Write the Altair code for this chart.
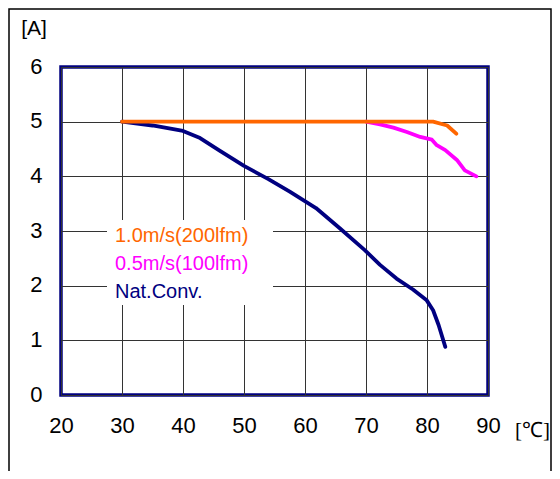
import altair as alt
import pandas as pd

# Data
orange_x = [30, 81, 83.3, 84.8]
orange_y = [5.0, 5.0, 4.93, 4.78]

magenta_x = [70, 72.3, 74.5, 76.7, 78.9, 80.8, 81.6, 83, 84.9, 86.2, 88.1]
magenta_y = [5.0, 4.95, 4.89, 4.81, 4.72, 4.67, 4.57, 4.48, 4.30, 4.11, 4.0]

navy_x = [30, 35, 40, 42.8, 46, 50, 54, 57.5, 61.8, 65.7, 69.8, 72.3, 75, 77.7, 79.9, 81, 81.9, 83]
navy_y = [5.0, 4.93, 4.83, 4.7, 4.47, 4.19, 3.95, 3.72, 3.42, 3.05, 2.65, 2.38, 2.13, 1.93, 1.74, 1.55, 1.28, 0.88]

x_ticks = [20, 30, 40, 50, 60, 70, 80, 90]
y_ticks = [0, 1, 2, 3, 4, 5, 6]

legend_labels = ["1.0m/s(200lfm)", "0.5m/s(100lfm)", "Nat.Conv."]
legend_colors = ["#FF6600", "#FF00FF", "#000080"]

W, H = 427, 328
PAD = {"left": 53, "top": 59, "right": 64, "bottom": 76}

xscale = alt.Scale(domain=[20, 90], nice=False, zero=False)
yscale = alt.Scale(domain=[0, 6], nice=False)

xaxis = alt.Axis(values=x_ticks, title=None, ticks=False, domain=False, grid=True,
                 gridColor="#333333", gridWidth=1, labelPadding=20, labelFontSize=22,
                 labelFont="Liberation Sans", labelColor="black", labelFlush=False)
yaxis = alt.Axis(values=y_ticks, title=None, ticks=False, domain=False, grid=True,
                 gridColor="#333333", gridWidth=1, labelPadding=19, labelFontSize=22,
                 labelFont="Liberation Sans", labelColor="black", labelOffset=-1)


def line_layer(xs, ys, color):
    df = pd.DataFrame({"t": xs, "a": ys, "o": list(range(len(xs)))})
    return alt.Chart(df).mark_line(color=color, strokeWidth=3.8, strokeCap="round",
                                   strokeJoin="round").encode(
        x=alt.X("t:Q", scale=xscale, axis=xaxis),
        y=alt.Y("a:Q", scale=yscale, axis=yaxis),
        order="o:Q")


navy = line_layer(navy_x, navy_y, "#000080")
magenta = line_layer(magenta_x, magenta_y, "#FF00FF")
orange = line_layer(orange_x, orange_y, "#FF6600")

one = pd.DataFrame({"k": [0]})

frame = alt.Chart(one).mark_rect(filled=False, stroke="black", strokeWidth=1.5).encode(
    x=alt.value(-PAD["left"] + 1), x2=alt.value(W + PAD["right"] - 1),
    y=alt.value(-PAD["top"] + 1), y2=alt.value(H + PAD["bottom"] + 20))

legend_bg = alt.Chart(one).mark_rect(fill="white", stroke=None).encode(
    x=alt.value(46), x2=alt.value(212), y=alt.value(153), y2=alt.value(238))

leg_df = pd.DataFrame({"label": legend_labels, "color": legend_colors,
                       "py": [169, 197, 225]})
legend_text = alt.Chart(leg_df).mark_text(align="left", baseline="middle", fontSize=20,
                                          font="Liberation Sans").encode(
    x=alt.value(54), y=alt.Y("py:Q", scale=None), text="label:N",
    color=alt.Color("color:N", scale=None))

unit_a = alt.Chart(one).mark_text(text="[A]", fontSize=21, font="Liberation Sans",
                                  align="center", baseline="middle", color="black").encode(
    x=alt.value(-27), y=alt.value(-38))
unit_c = alt.Chart(one).mark_text(text="[℃]", fontSize=21, font="Liberation Serif",
                                  align="right", baseline="middle", color="black").encode(
    x=alt.value(489), y=alt.value(364))

chart = alt.layer(frame, legend_bg, navy, magenta, orange, legend_text, unit_a, unit_c).properties(
    width=W, height=H, padding=PAD, autosize=alt.AutoSizeParams(type="none"),
    background="white"
).configure_view(stroke="#000080", strokeWidth=3.5)

chart.save("out.html", embed_options={"renderer": "svg", "actions": False})
